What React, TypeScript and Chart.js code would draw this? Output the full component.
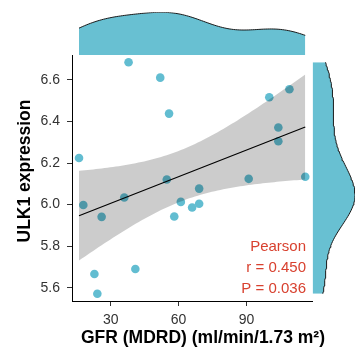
import React, { useEffect, useRef } from "react";
import { Chart, registerables } from "chart.js";
Chart.register(...registerables);

// ---- data ----
const gfr = [16, 17.9, 26, 22.8, 24.1, 36, 37.9, 40.9, 51.9, 55.8, 54.8, 58.1, 61, 66, 69.1, 69.1, 91, 100.1, 104.1, 104.1, 109, 116];
const ulk1 = [6.224, 5.998, 5.941, 5.666, 5.571, 6.034, 6.685, 5.69, 6.611, 6.438, 6.121, 5.943, 6.013, 5.986, 6.004, 6.077, 6.124, 6.517, 6.371, 6.305, 6.555, 6.134];
const xTickValues = [30, 60, 90];
const yTickValues = [5.6, 5.8, 6.0, 6.2, 6.4, 6.6];
const statLines = ["Pearson", "r = 0.450", "P = 0.036"];
const xTitle = "GFR (MDRD) (ml/min/1.73 m²)";
const yTitle = "ULK1 expression";
const xRange = [12.9, 119.2];
const yRange = [5.536, 6.72];
const T_CRIT = 2.086; // t(0.975, df = 20)

// ---- styling ----
const W = 360;
const H = 353;
const FONT = "'Liberation Sans', Arial, Helvetica, sans-serif";
const POINT_COLOR = "#62BDD1";
const DENS_COLOR = "#68C0D2";
const BAND_COLOR = "rgba(0,0,0,0.2)";
const STAT_COLOR = "#D8412F";
const TICK_COLOR = "#333333";

// ---- statistics helpers ----
function mean(a: number[]) {
  return a.reduce((s, v) => s + v, 0) / a.length;
}
function quantile7(sorted: number[], p: number) {
  const h = (sorted.length - 1) * p;
  const lo = Math.floor(h);
  const hi = Math.ceil(h);
  return sorted[lo] + (h - lo) * (sorted[hi] - sorted[lo]);
}
function bwNrd0(a: number[]) {
  const m = mean(a);
  const sd = Math.sqrt(a.reduce((s, v) => s + (v - m) ** 2, 0) / (a.length - 1));
  const s = [...a].sort((p, q) => p - q);
  const iqr = quantile7(s, 0.75) - quantile7(s, 0.25);
  return 0.9 * Math.min(sd, iqr / 1.34) * Math.pow(a.length, -0.2);
}
function kde(a: number[], bw: number, at: number) {
  let s = 0;
  for (const d of a) {
    const u = (at - d) / bw;
    s += Math.exp(-0.5 * u * u);
  }
  return s / (a.length * bw * Math.sqrt(2 * Math.PI));
}
function densityCurve(a: number[], steps: number) {
  const bw = bwNrd0(a);
  const lo = Math.min(...a);
  const hi = Math.max(...a);
  const out: { v: number; d: number }[] = [];
  for (let i = 0; i <= steps; i++) {
    const v = lo + ((hi - lo) * i) / steps;
    out.push({ v, d: kde(a, bw, v) });
  }
  return out;
}
function regression(xs: number[], ys: number[]) {
  const n = xs.length;
  const mx = mean(xs);
  const my = mean(ys);
  let sxx = 0, sxy = 0, syy = 0;
  for (let i = 0; i < n; i++) {
    sxx += (xs[i] - mx) ** 2;
    sxy += (xs[i] - mx) * (ys[i] - my);
    syy += (ys[i] - my) ** 2;
  }
  const b = sxy / sxx;
  const a = my - b * mx;
  const s = Math.sqrt((syy - b * sxy) / (n - 2));
  return { a, b, s, n, mx, sxx };
}

export default function App() {
  const mainRef = useRef<HTMLCanvasElement | null>(null);
  const topRef = useRef<HTMLCanvasElement | null>(null);
  const rightRef = useRef<HTMLCanvasElement | null>(null);

  useEffect(() => {
    const reg = regression(gfr, ulk1);
    const xmin = Math.min(...gfr);
    const xmax = Math.max(...gfr);
    const steps = 80;
    const lower: { x: number; y: number }[] = [];
    const upper: { x: number; y: number }[] = [];
    for (let i = 0; i <= steps; i++) {
      const x = xmin + ((xmax - xmin) * i) / steps;
      const fit = reg.a + reg.b * x;
      const se = reg.s * Math.sqrt(1 / reg.n + (x - reg.mx) ** 2 / reg.sxx);
      lower.push({ x, y: fit - T_CRIT * se });
      upper.push({ x, y: fit + T_CRIT * se });
    }
    const fitLine = [
      { x: xmin, y: reg.a + reg.b * xmin },
      { x: xmax, y: reg.a + reg.b * xmax },
    ];

    const textPlugin = {
      id: "texts",
      afterDraw(chart: any) {
        const ctx = chart.ctx;
        ctx.save();
        ctx.fillStyle = "#000";
        ctx.font = `bold 17.5px ${FONT}`;
        ctx.textAlign = "center";
        ctx.textBaseline = "middle";
        ctx.fillText(xTitle, 203, 338);
        ctx.translate(25, 171);
        ctx.rotate(-Math.PI / 2);
        ctx.fillText(yTitle, 0, 0);
        ctx.restore();
        ctx.save();
        ctx.fillStyle = STAT_COLOR;
        ctx.font = `15px ${FONT}`;
        ctx.textAlign = "right";
        ctx.textBaseline = "middle";
        const ys = [246.5, 267.5, 288.5];
        statLines.forEach((t, i) => ctx.fillText(t, 306, ys[i]));
        ctx.restore();
      },
    };

    const main = new Chart(mainRef.current as HTMLCanvasElement, {
      type: "line",
      data: {
        datasets: [
          {
            type: "scatter",
            data: gfr.map((x, i) => ({ x, y: ulk1[i] })),
            backgroundColor: POINT_COLOR,
            borderWidth: 0,
            pointRadius: 4.3,
            order: 3,
          } as any,
          {
            type: "line",
            data: lower,
            borderWidth: 0,
            borderColor: "rgba(0,0,0,0)",
            pointRadius: 0,
            fill: false,
            order: 2,
          },
          {
            type: "line",
            data: upper,
            borderWidth: 0,
            borderColor: "rgba(0,0,0,0)",
            backgroundColor: BAND_COLOR,
            pointRadius: 0,
            fill: "-1",
            order: 2,
          },
          {
            type: "line",
            data: fitLine,
            borderColor: "#000",
            borderWidth: 1.2,
            pointRadius: 0,
            fill: false,
            order: 1,
          },
        ],
      },
      options: {
        responsive: false,
        animation: false,
        devicePixelRatio: 1,
        events: [],
        layout: { autoPadding: false, padding: { left: 0, right: W - 312.5, top: 55, bottom: 0 } },
        plugins: { legend: { display: false }, tooltip: { enabled: false } },
        scales: {
          x: {
            type: "linear",
            min: xRange[0],
            max: xRange[1],
            afterBuildTicks: (s: any) => {
              s.ticks = xTickValues.map((v) => ({ value: v }));
            },
            afterFit: (s: any) => {
              s.height = H - 301;
            },
            grid: { drawOnChartArea: false, drawTicks: true, tickLength: 5, color: TICK_COLOR, lineWidth: 1 },
            border: { display: true, color: "#000", width: 1 },
            ticks: { padding: 6, color: TICK_COLOR, font: { family: FONT, size: 14 }, maxRotation: 0, callback: (v: any) => String(v) },
          },
          y: {
            type: "linear",
            min: yRange[0],
            max: yRange[1],
            afterBuildTicks: (s: any) => {
              s.ticks = yTickValues.map((v) => ({ value: v }));
            },
            afterFit: (s: any) => {
              s.width = 72;
            },
            grid: { drawOnChartArea: false, drawTicks: true, tickLength: 5, color: TICK_COLOR, lineWidth: 1 },
            border: { display: true, color: "#000", width: 1 },
            ticks: { padding: 7, color: TICK_COLOR, font: { family: FONT, size: 14 }, callback: (v: any) => Number(v).toFixed(1) },
          },
        },
      },
      plugins: [textPlugin],
    });

    const dx = densityCurve(gfr, 120);
    const dxMax = Math.max(...dx.map((p) => p.d));
    const top = new Chart(topRef.current as HTMLCanvasElement, {
      type: "line",
      data: {
        datasets: [
          {
            data: dx.map((p) => ({ x: p.v, y: p.d })),
            borderColor: "#1a1a1a",
            borderWidth: 1,
            backgroundColor: DENS_COLOR,
            fill: "origin",
            pointRadius: 0,
          },
        ],
      },
      options: {
        responsive: false,
        animation: false,
        devicePixelRatio: 1,
        events: [],
        layout: { autoPadding: false, padding: { left: 72, right: W - 312.5, top: 12.3, bottom: H - 55 } },
        plugins: { legend: { display: false }, tooltip: { enabled: false } },
        scales: {
          x: { type: "linear", min: xRange[0], max: xRange[1], display: false },
          y: { type: "linear", min: 0, max: dxMax, display: false },
        },
      },
    });

    const dy = densityCurve(ulk1, 120);
    const dyMax = Math.max(...dy.map((p) => p.d));
    const right = new Chart(rightRef.current as HTMLCanvasElement, {
      type: "line",
      data: {
        datasets: [
          {
            data: dy.map((p) => ({ x: p.d, y: p.v })),
            borderColor: "#1a1a1a",
            borderWidth: 1,
            backgroundColor: DENS_COLOR,
            fill: "origin",
            pointRadius: 0,
          },
        ],
      },
      options: {
        indexAxis: "y",
        responsive: false,
        animation: false,
        devicePixelRatio: 1,
        events: [],
        layout: { autoPadding: false, padding: { left: 312.5, right: W - 355, top: 55, bottom: H - 301 } },
        plugins: { legend: { display: false }, tooltip: { enabled: false } },
        scales: {
          x: { type: "linear", min: 0, max: dyMax, display: false },
          y: { type: "linear", min: yRange[0], max: yRange[1], display: false },
        },
      },
    });

    return () => {
      main.destroy();
      top.destroy();
      right.destroy();
    };
  }, []);

  const cs: React.CSSProperties = { position: "absolute", left: 0, top: 0, width: W, height: H };
  return (
    <div style={{ position: "fixed", left: 0, top: 0, width: W, height: H, background: "#fff" }}>
      <canvas ref={topRef} width={W} height={H} style={cs} />
      <canvas ref={rightRef} width={W} height={H} style={cs} />
      <canvas ref={mainRef} width={W} height={H} style={cs} />
    </div>
  );
}
